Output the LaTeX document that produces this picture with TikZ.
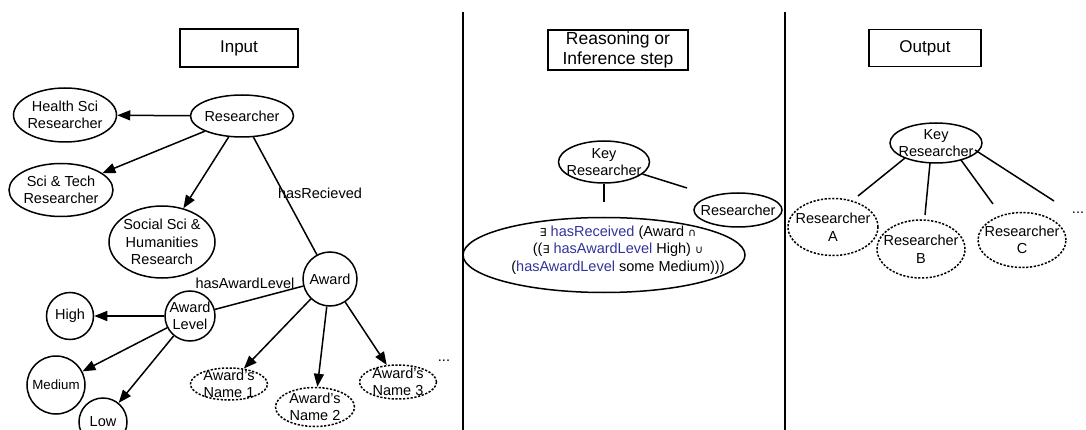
\documentclass[tikz,border=0pt]{standalone}
\usepackage{fontspec}
\setmainfont{Liberation Sans}
\newfontfamily\symfont{DejaVu Sans}
\usetikzlibrary{shapes.geometric,arrows.meta}
\definecolor{owlblue}{RGB}{51,51,153}
\begin{document}
\begin{tikzpicture}[x=1pt,y=-1pt,
  every node/.style={font=\fontsize{14.5}{17.5}\selectfont, align=center},
  ln/.style={line width=1.5pt},
  arr/.style={ln,-{Triangle[length=13pt,width=10pt]}},
  ell/.style={draw,ln,ellipse,inner sep=-25pt},
  circ/.style={draw,ln,circle,inner sep=-25pt},
  dsh/.style={draw,ellipse,inner sep=-25pt,line width=1.5pt,dash pattern=on 2.2pt off 1.6pt},
  titlebox/.style={draw,ln,rectangle,inner sep=0pt,font=\fontsize{17}{19}\selectfont}]
\useasboundingbox (0,0) rectangle (1086,430);
\begin{scope}
\clip (0,0) rectangle (1086,430);
% separators
\coordinate (s1t) at (463,12); \coordinate (s1b) at (463,430);
\coordinate (s2t) at (785,12); \coordinate (s2b) at (785,430);
\draw[ln] (s1t) -- (s1b);
\draw[ln] (s2t) -- (s2b);

% titles
\node[titlebox,minimum width=118,minimum height=38] (tin) at (239,48) {Input};
\node[titlebox,minimum width=140,minimum height=40,font=\fontsize{17.5}{20}\selectfont] (treas) at (618,50) {Reasoning or\\Inference step};
\node[titlebox,minimum width=112,minimum height=37] (tout) at (925,48) {Output};

% input panel
\node[ell,minimum width=103,minimum height=42] (res) at (242,116) {Researcher};
\node[ell,minimum width=103,minimum height=54] (hs) at (65,115) {Health Sci\\Researcher};
\node[ell,minimum width=104,minimum height=53] (st) at (61,190) {Sci \& Tech\\Researcher};
\node[ell,minimum width=106,minimum height=72] (ss) at (162,242) {Social Sci \&\\Humanities\\Research};
\node[circ,minimum size=54] (aw) at (330,279) {Award};
\node[circ,minimum size=50] (al) at (190,316) {Award\\Level};
\node[circ,minimum size=47] (hi) at (70,316) {High};
\node[circ,minimum size=58,font=\fontsize{13.3}{15}\selectfont] (me) at (56,385) {Medium};
\node[circ,minimum size=48] (lo) at (103,422) {Low};
\node[dsh,minimum width=77,minimum height=32] (an1) at (229,384) {Award's\\Name 1};
\node[dsh,minimum width=79,minimum height=39] (an2) at (315,407) {Award's\\Name 2};
\node[dsh,minimum width=77,minimum height=34] (an3) at (398,382) {Award's\\Name 3};
\node[inner sep=0] (dots1) at (444,361) {...};

\draw[arr] (res) -- (hs);
\draw[arr] (res) -- (st);
\draw[arr] (res) -- (ss);
\draw[ln] (res) -- (aw);
\node[inner sep=0] (lrec) at (320,193) {hasRecieved};
\draw[ln] (aw) -- (al);
\node[inner sep=0] (lawl) at (245,283) {hasAwardLevel};
\draw[arr] (al) -- (hi);
\draw[arr] (al) -- (me);
\draw[arr] (al) -- (lo);
\draw[arr] (aw) -- (an1);
\draw[arr] (aw) -- (an2);
\draw[arr] (aw) -- (an3);

% reasoning panel
\node[ell,minimum width=91,minimum height=42] (kr1) at (604,162) {Key\\Researcher};
\node[ell,minimum width=88,minimum height=34] (r2) at (738,210) {Researcher};
\node[ell,minimum width=282,minimum height=75] (cond) at (604,255) {};
\node[inner sep=0] (condtxt) at (618,250) {{\symfont\fontsize{11}{13}\selectfont∃} \textcolor{owlblue}{hasReceived} (Award {\symfont\fontsize{11}{13}\selectfont∩}\\
(({\symfont\fontsize{11}{13}\selectfont∃} \textcolor{owlblue}{hasAwardLevel} High) {\symfont\fontsize{11}{13}\selectfont∪}\\
(\textcolor{owlblue}{hasAwardLevel} some Medium)))};
\coordinate (kr1d) at (604,202);
\coordinate (kr1r) at (687,188);
\draw[ln] (kr1) -- (kr1d);
\draw[ln] (kr1) -- (kr1r);

% output panel
\node[ell,minimum width=92,minimum height=40] (kr2) at (936,143) {Key\\Researcher};
\node[dsh,minimum width=90,minimum height=57] (ra) at (833,227) {Researcher\\A};
\node[dsh,minimum width=88,minimum height=58] (rb) at (921,249) {Researcher\\B};
\node[dsh,minimum width=88,minimum height=55] (rc) at (1022,240) {Researcher\\C};
\node[inner sep=0] (dots2) at (1078,213) {...};
\coordinate (ea) at (858,196);
\coordinate (eb) at (925,215);
\coordinate (ec) at (993,204);
\coordinate (ed) at (1054,201);
\draw[ln] (905,158) -- (ea);
\draw[ln] (930,163) -- (eb);
\draw[ln] (961,160) -- (ec);
\draw[ln] (975,150) -- (ed);
\end{scope}
\end{tikzpicture}
\end{document}
